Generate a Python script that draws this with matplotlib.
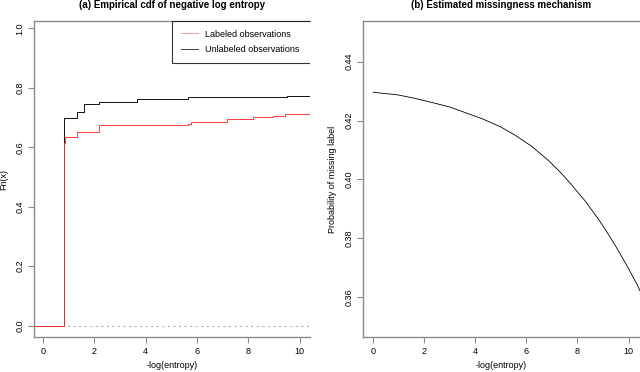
import numpy as np
import matplotlib
matplotlib.use('Agg')
import matplotlib.pyplot as plt

plt.rcParams['font.family'] = ['Liberation Sans', 'DejaVu Sans']

# ecdf of -log(entropy): jump positions and levels
unlab_x = [0.82, 1.31, 1.60, 2.19, 3.65, 5.63, 9.52]
unlab_y = [0.700, 0.720, 0.746, 0.754, 0.761, 0.770, 0.774]
lab_x = [0.82, 0.84, 1.31, 2.19, 5.63, 5.78, 7.15, 8.18, 8.96, 9.44]
lab_y = [0.615, 0.636, 0.652, 0.674, 0.680, 0.685, 0.695, 0.701, 0.705, 0.711]

# estimated missingness mechanism
mech_x = [0, 0.97, 1.6, 2.27, 3.0, 3.57, 4.3, 5.0, 5.6, 6.23, 6.88, 7.3, 7.66,
          8.31, 8.83, 9.15, 9.48, 9.9, 10.32, 10.45]
mech_y = [0.4296, 0.4287, 0.4276, 0.4262, 0.4246, 0.4228, 0.4205, 0.4178,
          0.4148, 0.4111, 0.4063, 0.4027, 0.3993, 0.3926, 0.3864, 0.3822,
          0.3776, 0.3713, 0.3646, 0.3622]

xlim_a = (-0.35, 10.4)
xlim_b = (-0.4, 10.45)

fig = plt.figure(figsize=(6.4, 3.72), dpi=100)
ax1 = fig.add_axes([34/640, 1-337/372, (310-34)/640, (337-21)/372])
ax2 = fig.add_axes([363/640, 1-337/372, (640-363)/640, (337-21)/372])

spine_col = '#8a8a8a'
fs = 6.5

def style(ax):
    ax.spines['right'].set_visible(False)
    for s in ['left', 'bottom', 'top']:
        ax.spines[s].set_color(spine_col)
        ax.spines[s].set_linewidth(1.0)
    ax.tick_params(direction='out', length=4, width=0.8, color=spine_col,
                   labelsize=fs, pad=3)
    for lab in ax.get_yticklabels():
        lab.set_rotation(90)
        lab.set_va('center')

# (a)
def steps(xs, ys):
    x = [xlim_a[0]] + xs + [xlim_a[1] + 0.5]
    y = [0] + ys + [ys[-1]]
    return x, y

ax1.axhline(0, color='#b3b3b3', lw=0.8, ls=(0, (2, 3)))
bx, by = steps(unlab_x, unlab_y)
ax1.step(bx, by, where='post', color='black', lw=0.65, label='Unlabeled observations')
rx, ry = steps(lab_x, lab_y)
ax1.step(rx, ry, where='post', color='#ff3030', lw=0.65, label='Labeled observations')
ax1.set_xlim(*xlim_a)
ax1.set_ylim(-0.038, 1.025)
ax1.set_xticks([0, 2, 4, 6, 8, 10])
ax1.set_yticks([0.0, 0.2, 0.4, 0.6, 0.8, 1.0])
ax1.set_yticklabels(['0.0', '0.2', '0.4', '0.6', '0.8', '1.0'])
style(ax1)
ax1.set_xlabel('-log(entropy)', fontsize=fs, labelpad=4)
ax1.set_ylabel('Fn(x)', fontsize=fs, labelpad=5)
ax1.set_title('(a) Empirical cdf of negative log entropy', fontsize=7,
              fontweight='bold', pad=9)

h, l = ax1.get_legend_handles_labels()
leg = ax1.legend(h[::-1], l[::-1], loc='upper left', mode='expand',
                 bbox_to_anchor=(0.50, 0.0, 0.7, 1.0), borderaxespad=0,
                 fontsize=fs, frameon=True, fancybox=False, handlelength=1.9,
                 handletextpad=0.85, labelspacing=0.75, borderpad=0.95)
leg.get_frame().set_edgecolor('black')
leg.get_frame().set_linewidth(0.8)
leg.get_frame().set_clip_on(True)
leg.get_frame().set_clip_box(ax1.bbox)
leg.get_lines()[0].set_color('#f29a9a')
leg.get_lines()[1].set_color('#333333')

# (b)
ax2.plot(mech_x, mech_y, color='black', lw=0.6)
ax2.set_xlim(*xlim_b)
ax2.set_ylim(0.3465, 0.4538)
ax2.set_xticks([0, 2, 4, 6, 8, 10])
ax2.set_yticks([0.36, 0.38, 0.40, 0.42, 0.44])
ax2.set_yticklabels(['0.36', '0.38', '0.40', '0.42', '0.44'])
style(ax2)
ax2.set_xlabel('-log(entropy)', fontsize=fs, labelpad=4)
ax2.set_ylabel('Probability of missing label', fontsize=fs, labelpad=5)
ax2.set_title('(b) Estimated missingness mechanism', fontsize=7,
              fontweight='bold', pad=9)

fig.savefig('out.png', dpi=100)
